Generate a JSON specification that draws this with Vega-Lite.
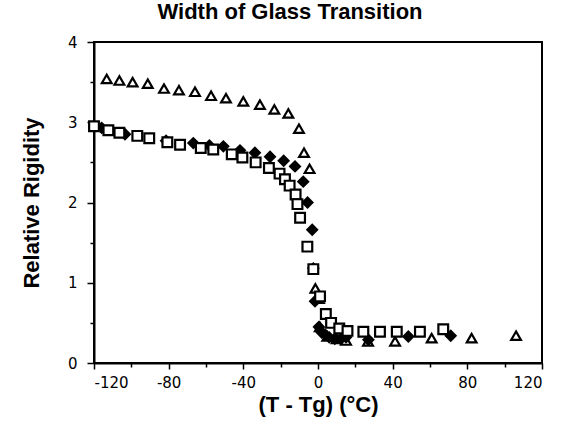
{
  "$schema": "https://vega.github.io/schema/vega-lite/v6.json",
  "width": 448,
  "height": 321,
  "autosize": "none",
  "padding": {"left": 94, "top": 42, "right": 19, "bottom": 67},
  "background": "white",
  "title": {"text": "Width of Glass Transition", "font": "Liberation Sans", "fontSize": 22, "fontWeight": "bold", "color": "black", "offset": 11, "dx": -28},
  "config": {
    "view": {"stroke": "black", "strokeWidth": 2},
    "axis": {"domainColor": "black", "domainWidth": 2, "tickColor": "black", "tickWidth": 1.5, "labelColor": "black", "labelFont": "DejaVu Sans", "labelFontSize": 15, "titleFont": "Liberation Sans", "titleFontWeight": "bold", "titleColor": "black", "grid": false}
  },
  "data": {"values": [
    {"series": "A", "dT": -113.2, "rig": 3.54},
    {"series": "A", "dT": -106.4, "rig": 3.52},
    {"series": "A", "dT": -99.3, "rig": 3.50},
    {"series": "A", "dT": -91.2, "rig": 3.48},
    {"series": "A", "dT": -82.5, "rig": 3.42},
    {"series": "A", "dT": -74.5, "rig": 3.40},
    {"series": "A", "dT": -65.9, "rig": 3.38},
    {"series": "A", "dT": -57.3, "rig": 3.33},
    {"series": "A", "dT": -49.3, "rig": 3.30},
    {"series": "A", "dT": -40.0, "rig": 3.26},
    {"series": "A", "dT": -31.1, "rig": 3.22},
    {"series": "A", "dT": -23.4, "rig": 3.16},
    {"series": "A", "dT": -15.9, "rig": 3.11},
    {"series": "A", "dT": -10.2, "rig": 2.92},
    {"series": "A", "dT": -7.5, "rig": 2.62},
    {"series": "A", "dT": -4.5, "rig": 2.42},
    {"series": "A", "dT": -1.4, "rig": 0.93},
    {"series": "A", "dT": 0.5, "rig": 0.80},
    {"series": "A", "dT": 1.0, "rig": 0.45},
    {"series": "A", "dT": 5.0, "rig": 0.33},
    {"series": "A", "dT": 10.0, "rig": 0.30},
    {"series": "A", "dT": 15.0, "rig": 0.28},
    {"series": "A", "dT": 26.8, "rig": 0.27},
    {"series": "A", "dT": 41.3, "rig": 0.27},
    {"series": "A", "dT": 60.9, "rig": 0.31},
    {"series": "A", "dT": 82.3, "rig": 0.31},
    {"series": "A", "dT": 106.1, "rig": 0.34},
    {"series": "B", "dT": -115.9, "rig": 2.93},
    {"series": "B", "dT": -103.4, "rig": 2.85},
    {"series": "B", "dT": -81.4, "rig": 2.77},
    {"series": "B", "dT": -66.8, "rig": 2.74},
    {"series": "B", "dT": -58.2, "rig": 2.71},
    {"series": "B", "dT": -50.7, "rig": 2.70},
    {"series": "B", "dT": -41.8, "rig": 2.65},
    {"series": "B", "dT": -33.8, "rig": 2.62},
    {"series": "B", "dT": -25.7, "rig": 2.57},
    {"series": "B", "dT": -18.4, "rig": 2.52},
    {"series": "B", "dT": -12.3, "rig": 2.45},
    {"series": "B", "dT": -7.9, "rig": 2.26},
    {"series": "B", "dT": -5.6, "rig": 2.0},
    {"series": "B", "dT": -3.1, "rig": 1.66},
    {"series": "B", "dT": -2.5, "rig": 1.18},
    {"series": "B", "dT": -1.6, "rig": 0.77},
    {"series": "B", "dT": 0.5, "rig": 0.45},
    {"series": "B", "dT": 2.0, "rig": 0.38},
    {"series": "B", "dT": 4.0, "rig": 0.35},
    {"series": "B", "dT": 6.0, "rig": 0.32},
    {"series": "B", "dT": 9.0, "rig": 0.30},
    {"series": "B", "dT": 12.0, "rig": 0.30},
    {"series": "B", "dT": 15.0, "rig": 0.32},
    {"series": "B", "dT": 27.0, "rig": 0.29},
    {"series": "B", "dT": 48.4, "rig": 0.33},
    {"series": "B", "dT": 71.1, "rig": 0.34},
    {"series": "C", "dT": -120.0, "rig": 2.95},
    {"series": "C", "dT": -112.3, "rig": 2.90},
    {"series": "C", "dT": -106.4, "rig": 2.87},
    {"series": "C", "dT": -96.8, "rig": 2.83},
    {"series": "C", "dT": -90.4, "rig": 2.80},
    {"series": "C", "dT": -80.7, "rig": 2.75},
    {"series": "C", "dT": -73.9, "rig": 2.72},
    {"series": "C", "dT": -62.8, "rig": 2.68},
    {"series": "C", "dT": -56.1, "rig": 2.66},
    {"series": "C", "dT": -46.2, "rig": 2.60},
    {"series": "C", "dT": -40.5, "rig": 2.56},
    {"series": "C", "dT": -33.4, "rig": 2.50},
    {"series": "C", "dT": -26.3, "rig": 2.43},
    {"series": "C", "dT": -20.6, "rig": 2.36},
    {"series": "C", "dT": -17.7, "rig": 2.29},
    {"series": "C", "dT": -15.2, "rig": 2.21},
    {"series": "C", "dT": -12.0, "rig": 2.10},
    {"series": "C", "dT": -11.0, "rig": 1.98},
    {"series": "C", "dT": -9.6, "rig": 1.81},
    {"series": "C", "dT": -5.7, "rig": 1.45},
    {"series": "C", "dT": -2.5, "rig": 1.17},
    {"series": "C", "dT": 1.1, "rig": 0.83},
    {"series": "C", "dT": 4.2, "rig": 0.61},
    {"series": "C", "dT": 7.0, "rig": 0.50},
    {"series": "C", "dT": 11.4, "rig": 0.43},
    {"series": "C", "dT": 15.8, "rig": 0.40},
    {"series": "C", "dT": 24.3, "rig": 0.39},
    {"series": "C", "dT": 33.2, "rig": 0.39},
    {"series": "C", "dT": 42.2, "rig": 0.39},
    {"series": "C", "dT": 54.6, "rig": 0.39},
    {"series": "C", "dT": 67.1, "rig": 0.42}
  ]},
  "mark": {"type": "point", "strokeWidth": 2.2, "size": 95, "opacity": 1},
  "encoding": {
    "x": {"field": "dT", "type": "quantitative", "scale": {"domain": [-120, 120], "nice": false, "zero": false},
      "axis": {"title": "(T - Tg) (°C)", "titleFontSize": 22, "titlePadding": 4, "values": [-120, -100, -80, -60, -40, -20, 0, 20, 40, 60, 80, 100, 120], "labelExpr": "datum.value % 40 == 0 ? '' + datum.value : ''", "tickSize": {"condition": {"test": "datum.value % 40 == 0", "value": 6}, "value": 4}, "labelPadding": 6}},
    "y": {"field": "rig", "type": "quantitative", "scale": {"domain": [0, 4], "nice": false},
      "axis": {"title": "Relative Rigidity", "titleFontSize": 22, "titlePadding": 24, "values": [0, 0.5, 1, 1.5, 2, 2.5, 3, 3.5, 4], "labelExpr": "datum.value % 1 == 0 ? '' + datum.value : ''", "tickSize": {"condition": {"test": "datum.value % 1 == 0", "value": 7}, "value": 4}, "labelPadding": 10}},
    "shape": {"field": "series", "type": "nominal", "scale": {"domain": ["A", "B", "C"], "range": ["triangle-up", "diamond", "square"]}, "legend": null},
    "fill": {"field": "series", "type": "nominal", "scale": {"domain": ["A", "B", "C"], "range": ["white", "black", "white"]}, "legend": null},
    "stroke": {"value": "black"}
  }
}
